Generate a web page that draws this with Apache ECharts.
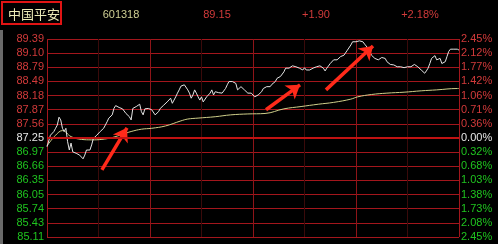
<!DOCTYPE html>
<html>
<head>
<meta charset="utf-8">
<script src="https://cdn.jsdelivr.net/npm/echarts@6/dist/echarts.min.js"></script>
<style>
html,body{margin:0;padding:0;background:#000;}
#c{width:498px;height:244px;}
</style>
</head>
<body>
<div id="c"></div>
<script>
// ---- data ----
const stockName = '中国平安';
const stockCode = '601318';
const lastPrice = '89.15';
const change = '+1.90';
const changePct = '+2.18%';
const prevClose = 87.25;

const priceLabels = ['89.39','89.10','88.79','88.49','88.18','87.87','87.56','87.25','86.97','86.66','86.35','86.05','85.74','85.43','85.11'];
const pctLabels = ['2.45%','2.12%','1.77%','1.42%','1.06%','0.71%','0.36%','0.00%','0.32%','0.68%','1.03%','1.38%','1.73%','2.08%','2.45%'];

const minutes = [0,2,3,4,5,6,7,8,9,10,11,12,13,14,15,16,17,18,19,20,21,22,23,24,25,26,27,28,29,30,31,32,33,34,35,36,37,38,39,40,41,42,43,44,45,46,47,48,49,50,51,52,53,54,55,56,57,58,59,60,61,63,64,65,66,67,68,69,70,71,72,73,74,75,76,77,78,79,80,81,82,83,84,85,86,87,88,89,90,91,92,93,94,95,96,97,98,99,100,101,102,103,104,105,106,107,108,109,110,111,112,113,114,115,116,117,118,119,120,121,122,123,124,125,126,127,128,129,130,131,132,133,134,135,136,137,138,139,140,141,142,143,144,145,146,147,148,149,150,151,152,153,154,155,156,157,158,159,160,161,162,163,164,165,166,167,168,169,170,171,172,173,174,175,176,177,178,179,180,181,182,183,184,185,186,187,188,189,190,191,192,193,194,195,196,197,198,199,200,201,202,203,204,205,206,207,208,209,210,211,212,213,214,215,216,217,218,219,220,221,222,223,224,225,226,227,228,229,230,231,232,233,234,235,236,237,238,239,240];
const prices = [87.06,87.31,87.28,87.39,87.46,87.53,87.70,87.64,87.46,87.39,87.46,87.17,86.99,87.14,86.95,86.99,86.92,86.95,86.88,86.85,86.80,86.88,86.99,87.03,86.99,87.10,87.24,87.28,87.31,87.28,87.39,87.35,87.46,87.53,87.60,87.68,87.71,87.75,87.89,87.95,87.93,87.91,87.89,87.88,87.89,87.78,87.75,87.71,87.64,87.89,87.91,87.93,87.96,87.98,87.82,87.75,87.88,87.86,87.89,87.86,87.86,87.75,87.78,87.82,87.89,87.93,87.96,88.00,88.03,88.07,88.11,88.00,88.03,88.14,88.22,88.29,88.37,88.40,88.40,88.36,88.29,88.22,88.11,88.18,88.29,88.22,88.14,88.07,88.14,88.03,88.07,88.14,88.11,88.22,88.29,88.18,88.25,88.22,88.23,88.22,88.22,88.25,88.32,88.40,88.47,88.50,88.47,88.49,88.43,88.29,88.32,88.36,88.32,88.29,88.25,88.22,88.18,88.22,88.18,88.14,88.14,88.18,88.22,88.25,88.32,88.29,88.36,88.40,88.36,88.41,88.43,88.47,88.54,88.55,88.58,88.55,88.68,88.76,88.79,88.76,88.79,88.81,88.77,88.79,88.83,88.76,88.79,88.72,88.77,88.72,88.76,88.72,88.72,88.76,88.77,88.79,88.81,88.81,88.79,88.76,88.70,88.76,88.79,88.86,88.90,88.94,88.97,88.94,88.96,89.01,88.97,89.04,89.08,89.15,89.19,89.26,89.33,89.37,89.33,89.37,89.35,89.37,89.33,89.28,89.26,89.19,89.12,89.04,89.01,88.97,88.94,88.94,88.96,88.99,89.01,88.97,88.90,88.86,88.84,88.86,88.83,88.81,88.79,88.77,88.79,88.76,88.77,88.76,88.79,88.81,88.79,88.83,88.84,88.83,88.79,88.76,88.72,88.68,88.65,88.70,88.76,88.86,88.97,89.01,89.03,88.94,88.90,88.97,88.86,88.83,88.90,89.01,89.12,89.17,89.19,89.17,89.17,89.17,89.15];

const avgMinutes = [0,5,9,14,20,26,32,38,44,49,55,61,69,78,82,88,98,107,117,127,138,148,158,167,177,181,189,198,208,218,227,239,240];
const avgPrices = [87.08,87.31,87.41,87.28,87.22,87.21,87.22,87.26,87.33,87.39,87.44,87.46,87.51,87.62,87.66,87.68,87.71,87.75,87.77,87.78,87.88,87.93,87.98,88.02,88.09,88.14,88.19,88.22,88.24,88.27,88.29,88.32,88.32];

// annotation arrows (tail -> head), in [minute, price]
const arrowTails = [[32,86.56],[127.6,87.86],[162.5,88.29]];
const arrowHeads = [[46.6,87.47],[147.4,88.40],[189.9,89.24]];

// ---- chart ----
const chart = echarts.init(document.getElementById('c'), null, {renderer:'canvas'});
const nTicks = priceLabels.length - 1;
const labelColor = (v) => {
  const i = Math.round(Number(v));
  const mid = nTicks / 2;
  if (i > mid) return '#d23a3a';
  if (i === mid) return '#e6e6e6';
  return '#1fc41f';
};
const font = '"Liberation Sans", Arial, sans-serif';
const gridRed = '#a3161c';
const dimRed = '#3a0a0a';

const option = {
  backgroundColor: '#000000',
  animation: false,
  grid: {left: 47, right: 39, top: 39, bottom: 7},
  xAxis: {
    type: 'value', min: 0, max: 240, interval: 30,
    axisLine: {show: false}, axisTick: {show: false}, axisLabel: {show: false},
    splitLine: {show: true, lineStyle: {width: 1, color: [gridRed, dimRed, '#8e1418', dimRed, '#8e1418', dimRed, '#8e1418', dimRed, gridRed]}}
  },
  yAxis: [
    {type: 'value', min: 85.11, max: 89.39, show: false},
    {
      type: 'value', min: 0, max: nTicks, interval: 1, position: 'left',
      axisLine: {show: false}, axisTick: {show: false},
      axisLabel: {
        margin: 3, fontSize: 11, fontFamily: font,
        formatter: (v) => priceLabels[nTicks - Math.round(v)],
        color: labelColor
      },
      splitLine: {show: true, lineStyle: {color: gridRed, width: 1}}
    },
    {
      type: 'value', min: 0, max: nTicks, interval: 1, position: 'right',
      axisLine: {show: false}, axisTick: {show: false},
      axisLabel: {
        margin: 2, fontSize: 11, fontFamily: font,
        formatter: (v) => pctLabels[nTicks - Math.round(v)],
        color: labelColor
      },
      splitLine: {show: false}
    }
  ],
  series: [
    {
      type: 'line', yAxisIndex: 0, showSymbol: false, silent: true,
      data: avgMinutes.map((m, i) => [m, avgPrices[i]]),
      smooth: 0.4,
      lineStyle: {color: '#cfcf8a', width: 1},
      markLine: {
        silent: true,
        symbol: ['none', 'arrow'],
        symbolSize: 13,
        label: {show: false},
        lineStyle: {color: '#ff2a1a', width: 3.5, type: 'solid'},
        data: arrowTails.map((t, i) => [{coord: t}, {coord: arrowHeads[i]}])
      },
      z: 3
    },
    {
      type: 'line', yAxisIndex: 0, showSymbol: false, silent: true,
      data: minutes.map((m, i) => [m, prices[i]]),
      lineStyle: {color: '#e4e4e4', width: 1},
      markLine: {
        silent: true, symbol: ['none', 'none'], label: {show: false},
        lineStyle: {color: '#c01212', width: 2, type: 'solid'},
        data: [{yAxis: prevClose}]
      },
      z: 4
    }
  ],
  graphic: [
    {type: 'rect', shape: {x: 0, y: 30, width: 3, height: 214}, style: {fill: '#6a6a6a'}, silent: true},
    {type: 'rect', shape: {x: 2, y: 2, width: 59, height: 22}, style: {fill: 'none', stroke: '#e01414', lineWidth: 2}, silent: true},
    {type: 'text', x: 8, y: 14, style: {text: stockName, fill: '#ecebb8', font: '13px "Noto Sans CJK SC", sans-serif', textVerticalAlign: 'middle', textAlign: 'left'}, silent: true},
    {type: 'text', x: 121, y: 15, style: {text: stockCode, fill: '#cfcf93', font: '11px ' + font, textVerticalAlign: 'middle', textAlign: 'center'}, silent: true},
    {type: 'text', x: 217, y: 15, style: {text: lastPrice, fill: '#d23a3a', font: '11px ' + font, textVerticalAlign: 'middle', textAlign: 'center'}, silent: true},
    {type: 'text', x: 316, y: 15, style: {text: change, fill: '#d23a3a', font: '11px ' + font, textVerticalAlign: 'middle', textAlign: 'center'}, silent: true},
    {type: 'text', x: 420, y: 15, style: {text: changePct, fill: '#d23a3a', font: '11px ' + font, textVerticalAlign: 'middle', textAlign: 'center'}, silent: true}
  ]
};
chart.setOption(option);
</script>
</body>
</html>
